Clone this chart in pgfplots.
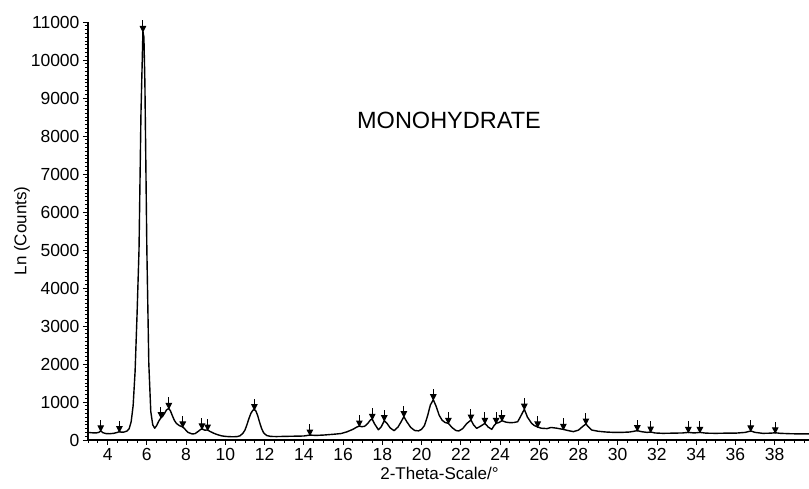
\documentclass[border=0pt]{standalone}
\usepackage{fontspec}
\setmainfont{Liberation Sans}
\usepackage{pgfplots}
\pgfplotsset{compat=1.18}

% peak marker: short stem with a down-pointing head, tip on the data point
\pgfdeclareplotmark{peakarrow}{%
  \pgfsetlinewidth{1pt}%
  \pgfpathmoveto{\pgfqpoint{0pt}{0pt}}%
  \pgfpathlineto{\pgfqpoint{0pt}{11pt}}%
  \pgfusepathqstroke
  \pgfpathmoveto{\pgfqpoint{0pt}{0pt}}%
  \pgfpathlineto{\pgfqpoint{-2.6pt}{5pt}}%
  \pgfpathlineto{\pgfqpoint{2.6pt}{5pt}}%
  \pgfpathclose
  \pgfusepathqfillstroke}

\begin{document}
\begin{tikzpicture}
\useasboundingbox (0,0) rectangle (809pt,489pt);
\begin{axis}[
    at={(88pt,49pt)}, anchor=south west,
    scale only axis,
    width=721pt, height=418pt,
    xmin=3, xmax=39.75,
    ymin=0, ymax=11000,
    axis x line*=bottom,
    axis y line*=left,
    axis line style={line width=1.1pt},
    tick align=outside,
    major tick length=5pt,
    minor tick length=3pt,
    tick style={line width=0.8pt, black},
    xtick={4,6,...,38},
    minor xtick={3,3.5,...,39.5},
    ytick={0,1000,...,11000},
    minor ytick={0,100,...,11000},
    scaled y ticks=false,
    /pgf/number format/assume math mode=true,
    /pgf/number format/1000 sep={},
    ticklabel style={font=\fontsize{17.5}{20}\selectfont},
    xlabel={2-Theta-Scale/°},
    ylabel={Ln (Counts)},
    label style={font=\fontsize{17}{20}\selectfont},
    xlabel style={at={(axis description cs:0.4875,-0.081)}, anchor=center},
    ylabel style={at={(axis description cs:-0.0915,0.5)}, anchor=center},
    clip=false,
]

\addplot[black, line width=1.4pt, line join=round] coordinates {
    (3.0,200) (3.2,190) (3.4,185) (3.55,200) (3.65,240) (3.75,195)
    (3.9,170) (4.1,165) (4.3,175) (4.5,200) (4.6,220) (4.7,205)
    (4.85,210) (5.0,240) (5.1,300) (5.2,480) (5.3,900) (5.4,1800)
    (5.5,3300) (5.6,5000) (5.7,8600) (5.8,10750) (5.85,10600)
    (5.9,9400) (6.0,5000) (6.1,2000) (6.2,750) (6.3,400) (6.4,310)
    (6.5,380) (6.6,490) (6.72,587) (6.8,620) (6.9,700) (7.0,790)
    (7.12,830) (7.2,770) (7.3,640) (7.4,520) (7.5,440) (7.65,380)
    (7.83,342) (7.95,280) (8.1,200) (8.3,160) (8.45,165) (8.6,220)
    (8.75,280) (8.81,290) (8.95,260) (9.1,263) (9.2,230) (9.4,180)
    (9.6,140) (9.8,110) (10.0,95) (10.2,88) (10.4,85) (10.6,90)
    (10.75,110) (10.9,180) (11.0,260) (11.1,400) (11.2,560) (11.3,700)
    (11.4,780) (11.48,800) (11.56,760) (11.65,640) (11.75,460)
    (11.85,300) (11.95,190) (12.1,120) (12.3,95) (12.6,90) (13.0,95)
    (13.5,100) (14.0,105) (14.31,130) (14.6,120) (15.0,130) (15.5,150)
    (15.9,170) (16.2,215) (16.5,280) (16.7,340) (16.83,368) (16.95,350)
    (17.1,360) (17.25,430) (17.4,530) (17.49,544) (17.6,430) (17.8,270)
    (17.95,350) (18.1,508) (18.25,430) (18.4,320) (18.6,245) (18.8,340)
    (18.95,470) (19.1,614) (19.25,480) (19.45,330) (19.65,250)
    (19.85,240) (20.0,280) (20.15,380) (20.3,620) (20.45,920)
    (20.6,1060) (20.75,880) (20.9,650) (21.05,520) (21.2,460)
    (21.37,438) (21.55,330) (21.75,250) (21.9,237) (22.1,300)
    (22.3,430) (22.52,526) (22.65,400) (22.81,307) (23.0,360)
    (23.23,438) (23.4,340) (23.58,280) (23.7,380) (23.8,438)
    (23.95,460) (24.1,508) (24.3,470) (24.5,456) (24.7,460) (24.9,480)
    (25.05,620) (25.24,810) (25.4,600) (25.61,438) (25.75,380)
    (25.92,342) (26.1,310) (26.4,300) (26.6,330) (26.9,310) (27.1,290)
    (27.23,280) (27.45,250) (27.74,220) (28.0,260) (28.2,350)
    (28.38,420) (28.5,350) (28.67,263) (29.0,230) (29.4,210) (29.8,200)
    (30.2,200) (30.6,210) (31.0,245) (31.2,220) (31.5,200) (31.68,210)
    (31.9,185) (32.3,175) (32.8,180) (33.3,185) (33.6,200) (33.9,185)
    (34.19,200) (34.5,180) (35.0,175) (35.5,180) (36.0,180) (36.5,200)
    (36.78,237) (37.0,200) (37.4,175) (37.8,180) (38.03,190) (38.3,175)
    (38.8,165) (39.3,160) (39.75,160)
};

% peak markers
\addplot[black, only marks, mark=peakarrow] coordinates {
    (3.65,240) (4.6,220) (5.8,10750) (6.72,587) (7.12,830) (7.83,342)
    (8.81,290) (9.1,263) (11.48,800) (14.31,130) (16.83,368)
    (17.49,544) (18.1,508) (19.1,614) (20.6,1060) (21.37,438)
    (22.52,526) (23.23,438) (23.8,438) (24.1,508) (25.24,810)
    (25.92,342) (27.23,280) (28.38,420) (31.0,245) (31.68,210)
    (33.6,200) (34.19,200) (36.78,237) (38.03,190)
};

\node[font=\fontsize{23.5}{28}\selectfont] at (axis cs:21.4,8420) {MONOHYDRATE};

\end{axis}
\end{tikzpicture}
\end{document}
